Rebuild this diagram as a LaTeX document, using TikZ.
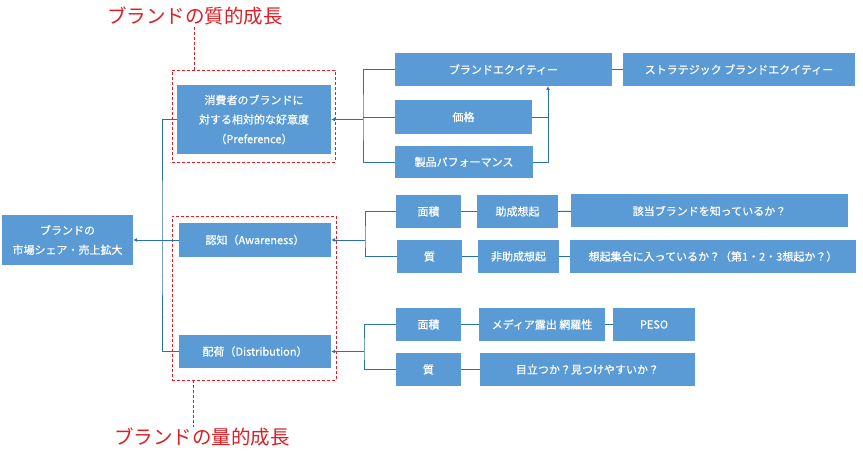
\documentclass[tikz,border=0pt]{standalone}
\usepackage{fontspec}
\setmainfont{Noto Sans CJK JP}
\newfontfamily\boxfont{Noto Sans CJK JP}[FakeBold=0.6]
\usetikzlibrary{arrows.meta}
\definecolor{boxblue}{RGB}{91,155,213}
\definecolor{lineblue}{RGB}{40,112,178}
\definecolor{growred}{RGB}{222,30,36}
\tikzset{
  blk/.style={fill=boxblue, text=white, inner sep=0pt, align=center,
    font=\boxfont\fontsize{11}{19.5}\selectfont},
  link/.style={draw=lineblue, line width=0.9pt},
  feed/.style={link, -{Latex[length=4pt,width=4pt]}},
  growbox/.style={draw=growred, dash pattern=on 3pt off 2pt, line width=0.8pt, inner sep=0pt},
  growline/.style={draw=growred, dash pattern=on 3pt off 2pt, line width=0.8pt},
  growlabel/.style={text=growred, inner sep=1pt, font=\fontsize{19.5}{22}\selectfont}
}

\begin{document}
\begin{tikzpicture}[x=1pt, y=-1pt]
    \useasboundingbox (0,0) rectangle (863,462);

    \node[growbox, minimum width=163pt, minimum height=92pt] (qualbox) at (253.5,116) {};
    \node[growbox, minimum width=164pt, minimum height=164pt] (quantbox) at (254,298) {};
    \node[growlabel] (qual) at (195,16) {ブランドの質的成長};
    \node[growlabel] (quant) at (202,437) {ブランドの量的成長};
    \coordinate (qualfoot) at (194,70);
    \coordinate (quantfoot) at (193,380);
    \draw[growline] (qualfoot) -- (qualfoot |- qual.south);
    \draw[growline] (quantfoot) -- (quantfoot |- quant.north);

    \node[blk, minimum width=131pt, minimum height=50pt] (market) at (67.5,240) {ブランドの\\市場シェア・売上拡大};
    \node[blk, minimum width=154pt, minimum height=69pt] (pref) at (254,119.5) {消費者のブランドに\\対する相対的な好意度\\（Preference）};
    \node[blk, minimum width=152pt, minimum height=34pt] (aware) at (255,240) {認知（Awareness）};
    \node[blk, minimum width=152pt, minimum height=33pt] (distr) at (255,351.5) {配荷（Distribution）};

    \node[blk, minimum width=217pt, minimum height=33pt] (equity) at (503.5,69.5) {ブランドエクイティー};
    \node[blk, minimum width=232pt, minimum height=33pt] (strat) at (739,69.5) {ストラテジック ブランドエクイティー};
    \node[blk, minimum width=137pt, minimum height=34pt] (price) at (463.5,117) {価格};
    \node[blk, minimum width=138pt, minimum height=32pt] (perf) at (464,162) {製品パフォーマンス};

    \node[blk, minimum width=65pt, minimum height=33pt] (aarea) at (428.5,211.5) {面積};
    \node[blk, minimum width=81pt, minimum height=33pt] (aided) at (517.5,211.5) {助成想起};
    \node[blk, minimum width=277pt, minimum height=33pt] (know) at (709.5,211) {該当ブランドを知っているか？};
    \node[blk, minimum width=65pt, minimum height=33pt] (aqual) at (429.5,256.5) {質};
    \node[blk, minimum width=81pt, minimum height=33pt] (unaided) at (518.5,256.5) {非助成想起};
    \node[blk, minimum width=286pt, minimum height=33pt] (recall) at (713,256.5) {想起集合に入っているか？（第1・2・3想起か？）};

    \node[blk, minimum width=65pt, minimum height=33pt] (darea) at (428.5,324.5) {面積};
    \node[blk, minimum width=126pt, minimum height=33pt] (media) at (542,324.5) {メディア露出 網羅性};
    \node[blk, minimum width=82pt, minimum height=33pt] (peso) at (654,324.5) {PESO};
    \node[blk, minimum width=65pt, minimum height=33pt] (dqual) at (428.5,369.5) {質};
    \node[blk, minimum width=215pt, minimum height=33pt] (notice) at (587.5,369.5) {目立つか？見つけやすいか？};

    \coordinate (lj) at (162,240);
    \draw[link] (pref.west) -| (lj) |- (distr.west);
    \draw[feed] (aware.west) -- (market.east);

    \coordinate (tj) at (363,119.5);
    \coordinate (eqin) at (548,86);
    \draw[link] (equity.west) -| (tj) |- (perf.west);
    \draw[link] (price.west) -- (price.west -| tj);
    \draw[feed] (tj) -- (pref.east);
    \draw[feed] (perf.east) -| (eqin);
    \draw[link] (price.east) -- (price.east -| eqin);
    \draw[link] (equity) -- (strat);

    \coordinate (aj) at (365,240);
    \draw[link] (aarea.west) -| (aj) |- (aqual.west);
    \draw[feed] (aj) -- (aware.east);
    \draw[link] (aarea) -- (aided);
    \draw[link] (aided) -- (know);
    \draw[link] (aqual) -- (unaided);
    \draw[link] (unaided) -- (recall);

    \coordinate (dj) at (364,351.5);
    \draw[link] (darea.west) -| (dj) |- (dqual.west);
    \draw[feed] (dj) -- (distr.east);
    \draw[link] (darea) -- (media);
    \draw[link] (media) -- (peso);
    \draw[link] (dqual) -- (notice);
    \end{tikzpicture}
\end{document}
